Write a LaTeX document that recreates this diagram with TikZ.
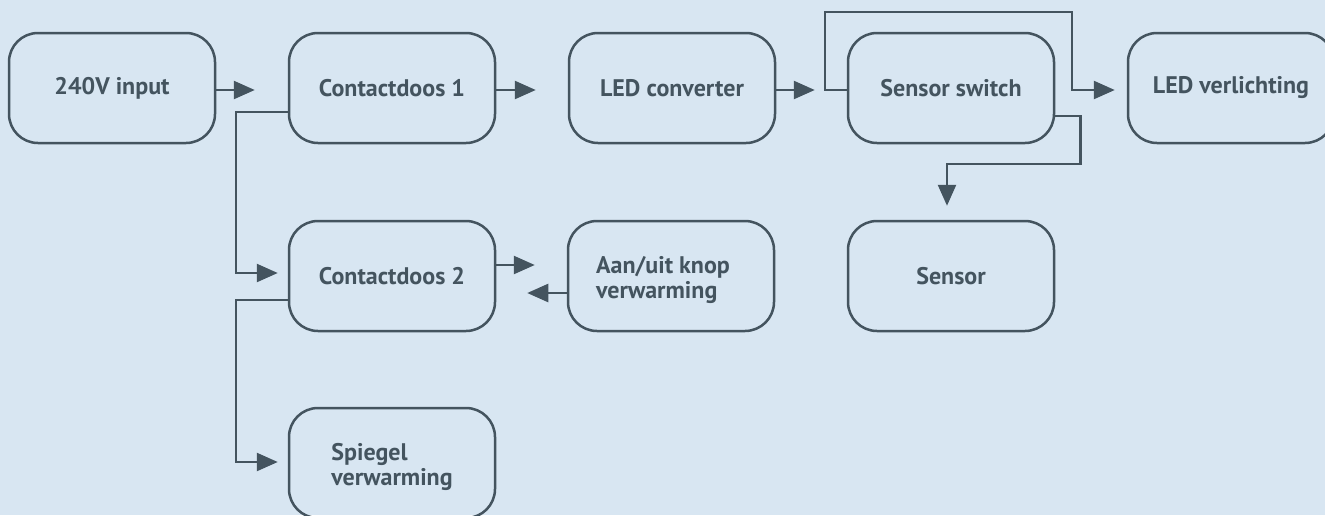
\documentclass[tikz,border=0pt]{standalone}
\usepackage{fontspec}
\setmainfont{PT Sans}
\usetikzlibrary{arrows.meta}
\definecolor{bg}{HTML}{D8E6F2}
\definecolor{ink}{HTML}{44545F}
\newcommand{\twolines}[3]{\raisebox{-5pt}[\height][\depth]{\begin{tabular}{@{}l@{}}#1\\#2\end{tabular}}\hspace*{#3}}
\begin{document}
\begin{tikzpicture}[x=1pt,y=-1pt,
  box/.style={draw=ink, line width=2.5pt, rounded corners=29pt, minimum width=206pt,
    minimum height=110pt, text=ink, font=\fontsize{24}{25}\selectfont\bfseries,
    inner sep=0pt},
  arr/.style={draw=ink, line width=2.5pt, -{Triangle[length=21pt,width=18pt]}}]
\useasboundingbox (0,0) rectangle (1325,515);
\fill[bg] (0,0) rectangle (1325,515);

\node[box] (in)  at (112,88)  {240V input};
\node[box] (c1)  at (392,88)  {Contactdoos 1};
\node[box] (led) at (672,88)  {LED converter};
\node[box] (ss)  at (951,88)  {Sensor switch};
\node[box] (lv)  at (1231,88) {LED verlichting};
\node[box] (c2)  at (392,276) {Contactdoos 2};
\node[box] (aan) at (671,276) {\twolines{Aan/uit knop}{verwarming}{16pt}};
\node[box] (sen) at (951,276) {Sensor};
\node[box] (sp)  at (392,463) {\twolines{Spiegel}{verwarming}{0pt}};

% top row
\draw[arr] ([yshift=-2pt]in.east) -- ([xshift=-33pt,yshift=-2pt]c1.west);
\draw[arr] ([yshift=-2pt]c1.east) -- ([xshift=-32pt,yshift=-2pt]led.west);
\draw[arr] ([yshift=-2pt]led.east) -- ([xshift=-32pt,yshift=-2pt]ss.west);

% loop over sensor switch
\draw[arr] ([yshift=-2pt]ss.west) -- ++(-22,0) -- ++(0,-78) -- ++(247,0) -- ++(0,78)
  -- ([xshift=-12pt,yshift=-2pt]lv.west);

% sensor switch to sensor
\draw[arr] ([yshift=-28pt]ss.east) -- ++(25,0) -- ++(0,48)
  -| ([xshift=-4pt,yshift=14pt]sen.north);

% contactdoos 1 to contactdoos 2
\draw[arr] ([yshift=-24pt]c1.west) -- ++(-52,0) |- ([xshift=-10pt,yshift=3pt]c2.west);

% contactdoos 2 <-> aan/uit
\draw[arr] ([yshift=11pt]c2.east) -- ([xshift=-32pt,yshift=11pt]aan.west);
\draw[arr] ([yshift=-17pt]aan.west) -- ([xshift=31pt,yshift=-17pt]c2.east);

% contactdoos 2 to spiegel
\draw[arr] ([yshift=-24pt]c2.west) -- ++(-52,0) |- ([xshift=-10pt,yshift=1pt]sp.west);
\end{tikzpicture}
\end{document}
